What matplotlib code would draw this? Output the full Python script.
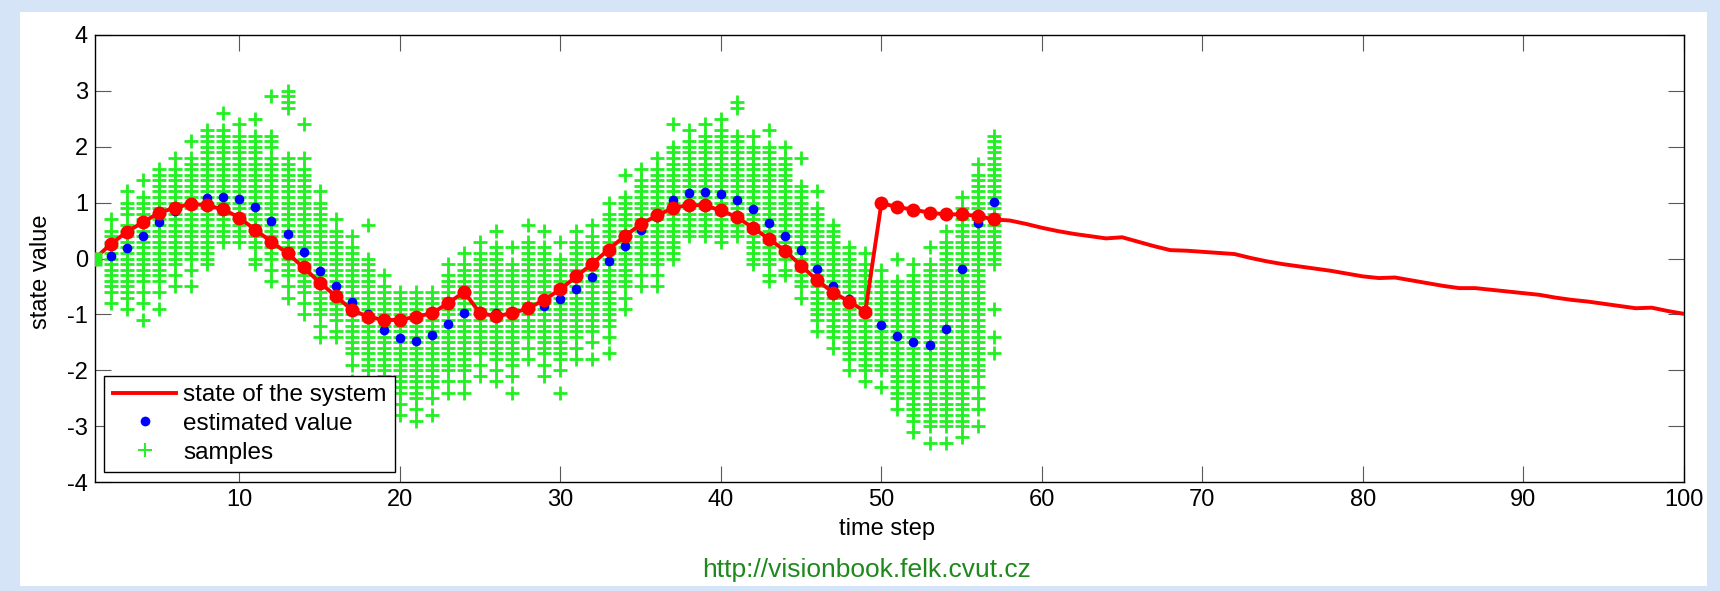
import matplotlib
matplotlib.use("Agg")
import matplotlib.pyplot as plt
from matplotlib.patches import Rectangle
import numpy as np

plt.rcParams["font.family"] = ["Liberation Sans", "DejaVu Sans"]
plt.rcParams["axes.unicode_minus"] = False

# true state of the system, time steps 1..100
state_values = [
    0.00, 0.26, 0.48, 0.65, 0.82, 0.91, 0.98, 0.95, 0.88, 0.73,
    0.51, 0.30, 0.09, -0.16, -0.43, -0.67, -0.92, -1.04, -1.10, -1.10,
    -1.04, -0.98, -0.80, -0.60, -0.98, -1.03, -0.98, -0.89, -0.74, -0.55,
    -0.32, -0.09, 0.16, 0.40, 0.61, 0.77, 0.90, 0.96, 0.95, 0.86,
    0.74, 0.55, 0.35, 0.14, -0.13, -0.39, -0.61, -0.77, -0.95, 0.99,
    0.92, 0.875, 0.82, 0.79, 0.79, 0.76, 0.70, 0.68, 0.62, 0.55,
    0.49, 0.44, 0.40, 0.36, 0.38, 0.30, 0.22, 0.15, 0.14, 0.12,
    0.10, 0.08, 0.01, -0.05, -0.10, -0.14, -0.18, -0.22, -0.27, -0.32,
    -0.35, -0.34, -0.39, -0.44, -0.49, -0.53, -0.53, -0.56, -0.59, -0.62,
    -0.65, -0.70, -0.74, -0.77, -0.81, -0.85, -0.89, -0.88, -0.94, -0.99,
]
n_filtered = 57  # steps that were filtered (markers + samples)

# estimated values, time steps 2..57
est_steps = list(range(2, 58))
est_values = [
    0.05, 0.18, 0.40, 0.65, 0.85, 0.97, 1.09, 1.10, 1.06, 0.93,
    0.68, 0.43, 0.11, -0.23, -0.49, -0.77, -1.00, -1.28, -1.42, -1.47,
    -1.37, -1.17, -0.97, -1.00, -0.97, -1.00, -0.90, -0.85, -0.73, -0.54,
    -0.33, -0.04, 0.22, 0.51, 0.75, 1.04, 1.17, 1.19, 1.16, 1.04,
    0.89, 0.64, 0.40, 0.15, -0.18, -0.49, -0.72, -0.92, -1.19, -1.39,
    -1.50, -1.55, -1.27, -0.18, 0.64, 1.01,
]

# particles at step 1 (all start at zero)
init_samples = [0.0]

# particles per time step 2..57, in tenths
sample_steps = list(range(2, 58))
sample_tenths = [
    [7, 5, 4, 3, 2, 1, 0, -1, -2, -3, -4, -5, -6, -8],
    [12, 10, 9, 8, 6, 5, 4, 3, 2, 1, 0, -1, -2, -3, -4, -5, -6, -7, -9],
    [14, 11, 10, 9, 8, 7, 6, 5, 4, 3, 2, 1, 0, -1, -2, -3, -4, -6, -8, -11],
    [16, 15, 14, 13, 12, 11, 10, 9, 8, 7, 6, 5, 4, 3, 2, 1, 0, -1, -2, -3, -4, -6, -9],
    [18, 16, 15, 14, 13, 12, 11, 10, 9, 8, 7, 6, 5, 4, 3, 2, 1, 0, -1, -3, -5],
    [21, 18, 17, 16, 15, 14, 13, 12, 11, 10, 9, 8, 7, 6, 5, 4, 3, 2, 1, 0, -2, -5],
    [23, 22, 21, 20, 19, 18, 17, 16, 15, 14, 13, 12, 11, 10, 9, 8, 7, 6, 5, 4, 3, 2, 1, 0, -1],
    [26, 23, 22, 21, 20, 19, 18, 17, 16, 15, 14, 13, 12, 11, 10, 9, 8, 7, 6, 5, 4, 3],
    [24, 22, 21, 20, 19, 18, 17, 16, 15, 14, 13, 12, 11, 10, 9, 8, 7, 6, 5, 4, 3],
    [25, 22, 21, 20, 19, 18, 17, 16, 15, 14, 13, 12, 11, 10, 9, 8, 7, 6, 5, 4, 3, 2, 0, -1],
    [29, 22, 21, 20, 18, 17, 16, 15, 14, 13, 12, 11, 10, 9, 8, 7, 6, 5, 4, 3, 2, 1, 0, -2, -4],
    [30, 29, 28, 27, 18, 17, 16, 15, 14, 13, 12, 11, 10, 9, 8, 7, 6, 5, 4, 3, 2, 1, 0, -1, -2, -3, -5, -7],
    [24, 18, 16, 15, 14, 13, 12, 11, 10, 9, 8, 7, 6, 5, 4, 3, 2, 1, 0, -1, -2, -3, -4, -5, -6, -8, -10],
    [12, 10, 9, 8, 7, 6, 5, 4, 3, 2, 1, 0, -1, -2, -3, -4, -5, -6, -7, -8, -9, -10, -12, -14],
    [7, 5, 4, 3, 2, 1, 0, -1, -2, -3, -4, -5, -6, -7, -8, -9, -10, -11, -13, -14],
    [4, 2, 1, 0, -1, -2, -3, -4, -5, -6, -7, -8, -9, -10, -11, -12, -13, -14, -15, -16, -17, -19, -22],
    [6, 0, -1, -2, -3, -4, -5, -6, -7, -8, -9, -10, -11, -12, -13, -14, -15, -16, -17, -18, -19, -20, -22, -25],
    [-3, -5, -6, -7, -8, -9, -10, -11, -12, -13, -14, -15, -16, -17, -18, -19, -20, -21, -22, -23, -24, -26, -29],
    [-6, -7, -8, -9, -10, -11, -12, -13, -14, -15, -16, -17, -18, -19, -20, -21, -22, -23, -24, -26, -28],
    [-6, -7, -8, -9, -10, -11, -12, -13, -14, -15, -16, -17, -18, -19, -20, -21, -22, -23, -24, -25, -27, -29],
    [-6, -7, -8, -9, -10, -11, -12, -13, -14, -15, -16, -17, -18, -19, -20, -21, -22, -23, -25, -28],
    [-1, -3, -4, -5, -6, -7, -8, -9, -10, -11, -12, -13, -14, -15, -16, -17, -18, -19, -20, -22, -24],
    [1, -1, -2, -3, -4, -5, -6, -7, -8, -9, -10, -11, -12, -13, -14, -15, -16, -17, -18, -19, -20, -22, -24],
    [3, 1, 0, -1, -2, -3, -4, -5, -6, -7, -8, -9, -10, -11, -12, -13, -14, -15, -16, -17, -19, -21],
    [5, 2, 1, 0, -1, -2, -3, -4, -5, -6, -7, -8, -9, -10, -11, -12, -13, -14, -15, -16, -17, -18, -20, -22],
    [2, -1, -2, -3, -4, -5, -6, -7, -8, -9, -10, -11, -12, -13, -14, -15, -16, -17, -18, -19, -21, -24],
    [6, 3, 2, 1, 0, -1, -2, -3, -4, -5, -6, -7, -8, -9, -10, -11, -12, -13, -14, -16, -18],
    [5, 2, 1, 0, -1, -2, -3, -4, -5, -6, -7, -8, -9, -10, -11, -12, -13, -14, -15, -16, -17, -19, -21],
    [3, 0, -1, -2, -3, -4, -5, -6, -7, -8, -9, -10, -11, -12, -13, -14, -15, -16, -17, -18, -20, -24],
    [5, 3, 2, 1, 0, -1, -2, -3, -4, -5, -6, -7, -8, -9, -10, -11, -12, -13, -14, -16, -18],
    [6, 4, 3, 2, 1, 0, -1, -2, -3, -4, -5, -6, -7, -8, -9, -10, -11, -12, -13, -15, -18],
    [10, 8, 7, 6, 5, 4, 3, 2, 1, 0, -1, -2, -3, -4, -5, -6, -7, -8, -9, -10, -11, -12, -14, -17],
    [15, 11, 10, 9, 8, 7, 6, 5, 4, 3, 2, 1, 0, -1, -2, -3, -4, -5, -7, -9],
    [16, 14, 13, 12, 11, 10, 9, 8, 7, 6, 5, 4, 3, 2, 1, 0, -1, -3, -5],
    [18, 16, 15, 14, 13, 12, 11, 10, 9, 8, 7, 6, 5, 4, 3, 2, 1, 0, -1, -3, -5],
    [24, 20, 19, 18, 17, 16, 15, 14, 13, 12, 11, 10, 9, 8, 7, 6, 5, 4, 3, 2, 1, 0],
    [23, 21, 20, 19, 18, 17, 16, 15, 14, 13, 12, 11, 10, 9, 8, 7, 6, 5, 4],
    [24, 22, 21, 20, 19, 18, 17, 16, 15, 14, 13, 12, 11, 10, 9, 8, 7, 6, 5, 4],
    [25, 23, 22, 21, 20, 19, 18, 17, 16, 15, 14, 13, 12, 11, 10, 9, 8, 7, 6, 5, 4, 3],
    [28, 27, 22, 21, 20, 19, 18, 17, 16, 15, 14, 13, 12, 11, 10, 9, 8, 7, 6, 5, 4],
    [22, 20, 19, 18, 17, 16, 15, 14, 13, 12, 11, 10, 9, 8, 7, 6, 5, 4, 3, 2, 1, 0, -1],
    [23, 20, 19, 18, 17, 16, 15, 14, 13, 12, 11, 10, 9, 8, 7, 6, 5, 4, 3, 2, 1, 0, -1, -3, -4],
    [20, 18, 17, 16, 15, 14, 13, 12, 11, 10, 9, 8, 7, 6, 5, 4, 3, 2, 1, 0, -2, -3],
    [18, 13, 12, 11, 10, 9, 8, 7, 6, 5, 4, 3, 2, 1, 0, -1, -2, -3, -4, -5, -7],
    [12, 9, 8, 7, 6, 5, 4, 3, 2, 1, 0, -1, -2, -3, -4, -5, -6, -7, -8, -9, -10, -11, -13],
    [6, 5, 4, 3, 2, 1, 0, -1, -2, -3, -4, -5, -6, -7, -8, -9, -10, -11, -12, -13, -14, -16],
    [2, 1, 0, -1, -2, -3, -4, -5, -6, -7, -8, -9, -10, -11, -12, -13, -14, -15, -16, -17, -18, -20],
    [1, -1, -2, -3, -4, -5, -6, -7, -8, -9, -10, -11, -12, -13, -14, -15, -16, -17, -18, -19, -20, -22],
    [-2, -4, -5, -6, -7, -8, -9, -10, -11, -12, -13, -14, -15, -16, -17, -18, -19, -20, -23],
    [0, -4, -5, -6, -7, -8, -9, -10, -11, -12, -13, -14, -15, -16, -17, -18, -19, -20, -21, -22, -23, -24, -25, -27],
    [-1, -3, -4, -5, -6, -7, -8, -9, -10, -11, -12, -13, -14, -15, -16, -17, -18, -19, -20, -21, -22, -23,
     -24, -25, -26, -27, -28, -29, -31],
    [2, -1, -2, -3, -4, -5, -6, -7, -8, -9, -10, -11, -12, -13, -14, -15, -16, -17, -18, -19, -20, -21,
     -22, -23, -24, -25, -26, -27, -28, -29, -30, -33],
    [5, 3, 2, 1, 0, -1, -2, -3, -4, -5, -6, -7, -8, -9, -10, -11, -12, -13, -14, -15, -16, -17, -18, -19,
     -20, -21, -22, -23, -24, -25, -26, -27, -28, -29, -30, -33],
    [11, 9, 8, 7, 6, 5, 4, 3, 2, 1, 0, -1, -2, -3, -4, -5, -6, -7, -8, -9, -10, -11, -12, -13, -14, -15,
     -16, -17, -18, -19, -20, -21, -22, -23, -24, -25, -26, -27, -28, -29, -30, -32],
    [17, 15, 14, 13, 12, 11, 10, 9, 8, 7, 6, 5, 4, 3, 2, 1, 0, -1, -2, -3, -4, -5, -6, -7, -8, -9, -10,
     -11, -12, -13, -14, -15, -16, -17, -18, -19, -20, -21, -23, -25, -27, -30],
    [22, 21, 20, 19, 18, 17, 16, 15, 14, 13, 12, 11, 10, 9, 8, 7, 6, 5, 4, 3, 2, 1, 0, -1, -9, -14, -17],
]

x_ticks = [10, 20, 30, 40, 50, 60, 70, 80, 90, 100]
y_ticks = [-4, -3, -2, -1, 0, 1, 2, 3, 4]

state_steps = np.arange(1, len(state_values) + 1)
state_values = np.array(state_values)

samp_x = np.concatenate([[t] * len(col) for t, col in zip(sample_steps, sample_tenths)])
samp_y = np.concatenate([np.array(col) / 10.0 for col in sample_tenths])

fig = plt.figure(figsize=(17.2, 5.91), dpi=100)
fig.patch.set_facecolor("#d5e4f6")
# white page panel behind the plot
fig.patches.append(Rectangle((0.0116, 0.0085), 0.9808, 0.9712, transform=fig.transFigure,
                             facecolor="white", edgecolor="none", zorder=-10))

ax = fig.add_axes([0.0552, 0.1844, 0.9238, 0.7564])
ax.set_facecolor("white")

ax.plot(samp_x, samp_y, "+", color="#22f022", ms=9.5, mew=2.0, label="samples", zorder=2)
ax.plot(est_steps, est_values, "o", color="#0000ff", ms=7, mec="none",
        label="estimated value", zorder=3)
ax.plot(state_steps, state_values, "-", color="#ff0000", lw=2.8,
        label="state of the system", zorder=4)
ax.plot(state_steps[:n_filtered], state_values[:n_filtered], "o", color="#ff0000",
        ms=10, mec="none", zorder=4)
ax.plot([1] * len(init_samples), init_samples, "s", color="#22f022", ms=9.5, mec="none", zorder=5)

ax.set_xlim(1, 100)
ax.set_ylim(-4, 4)
ax.set_xticks(x_ticks)
ax.set_yticks(y_ticks)
ax.tick_params(direction="in", top=True, right=True, length=11.5, width=0.8,
               color="0.35", labelsize=17, pad=5)
for s in ax.spines.values():
    s.set_linewidth(1.0)
    s.set_color("black")

ax.set_xlabel("time step", fontsize=17)
ax.set_ylabel("state value", fontsize=17)
ax.xaxis.set_label_coords(0.4985, -0.08)
ax.yaxis.set_label_coords(-0.027, 0.47)

handles, labels = ax.get_legend_handles_labels()
order = [2, 1, 0]
leg = ax.legend([handles[i] for i in order], [labels[i] for i in order],
                loc="lower left", bbox_to_anchor=(0.006, 0.022), borderaxespad=0,
                fontsize=17.5, frameon=True, fancybox=False, framealpha=1,
                edgecolor="black", handlelength=2.6, handletextpad=0.3,
                labelspacing=0.28, borderpad=0.35)
leg.get_frame().set_linewidth(1.0)
leg.legend_handles[2].set_markeredgewidth(1.4)

fig.text(0.504, 1 - 570 / 591, "http://visionbook.felk.cvut.cz", color="#1e8a1e",
         fontsize=19, ha="center", va="center")

fig.savefig("out.png", dpi=100, facecolor=fig.get_facecolor())
